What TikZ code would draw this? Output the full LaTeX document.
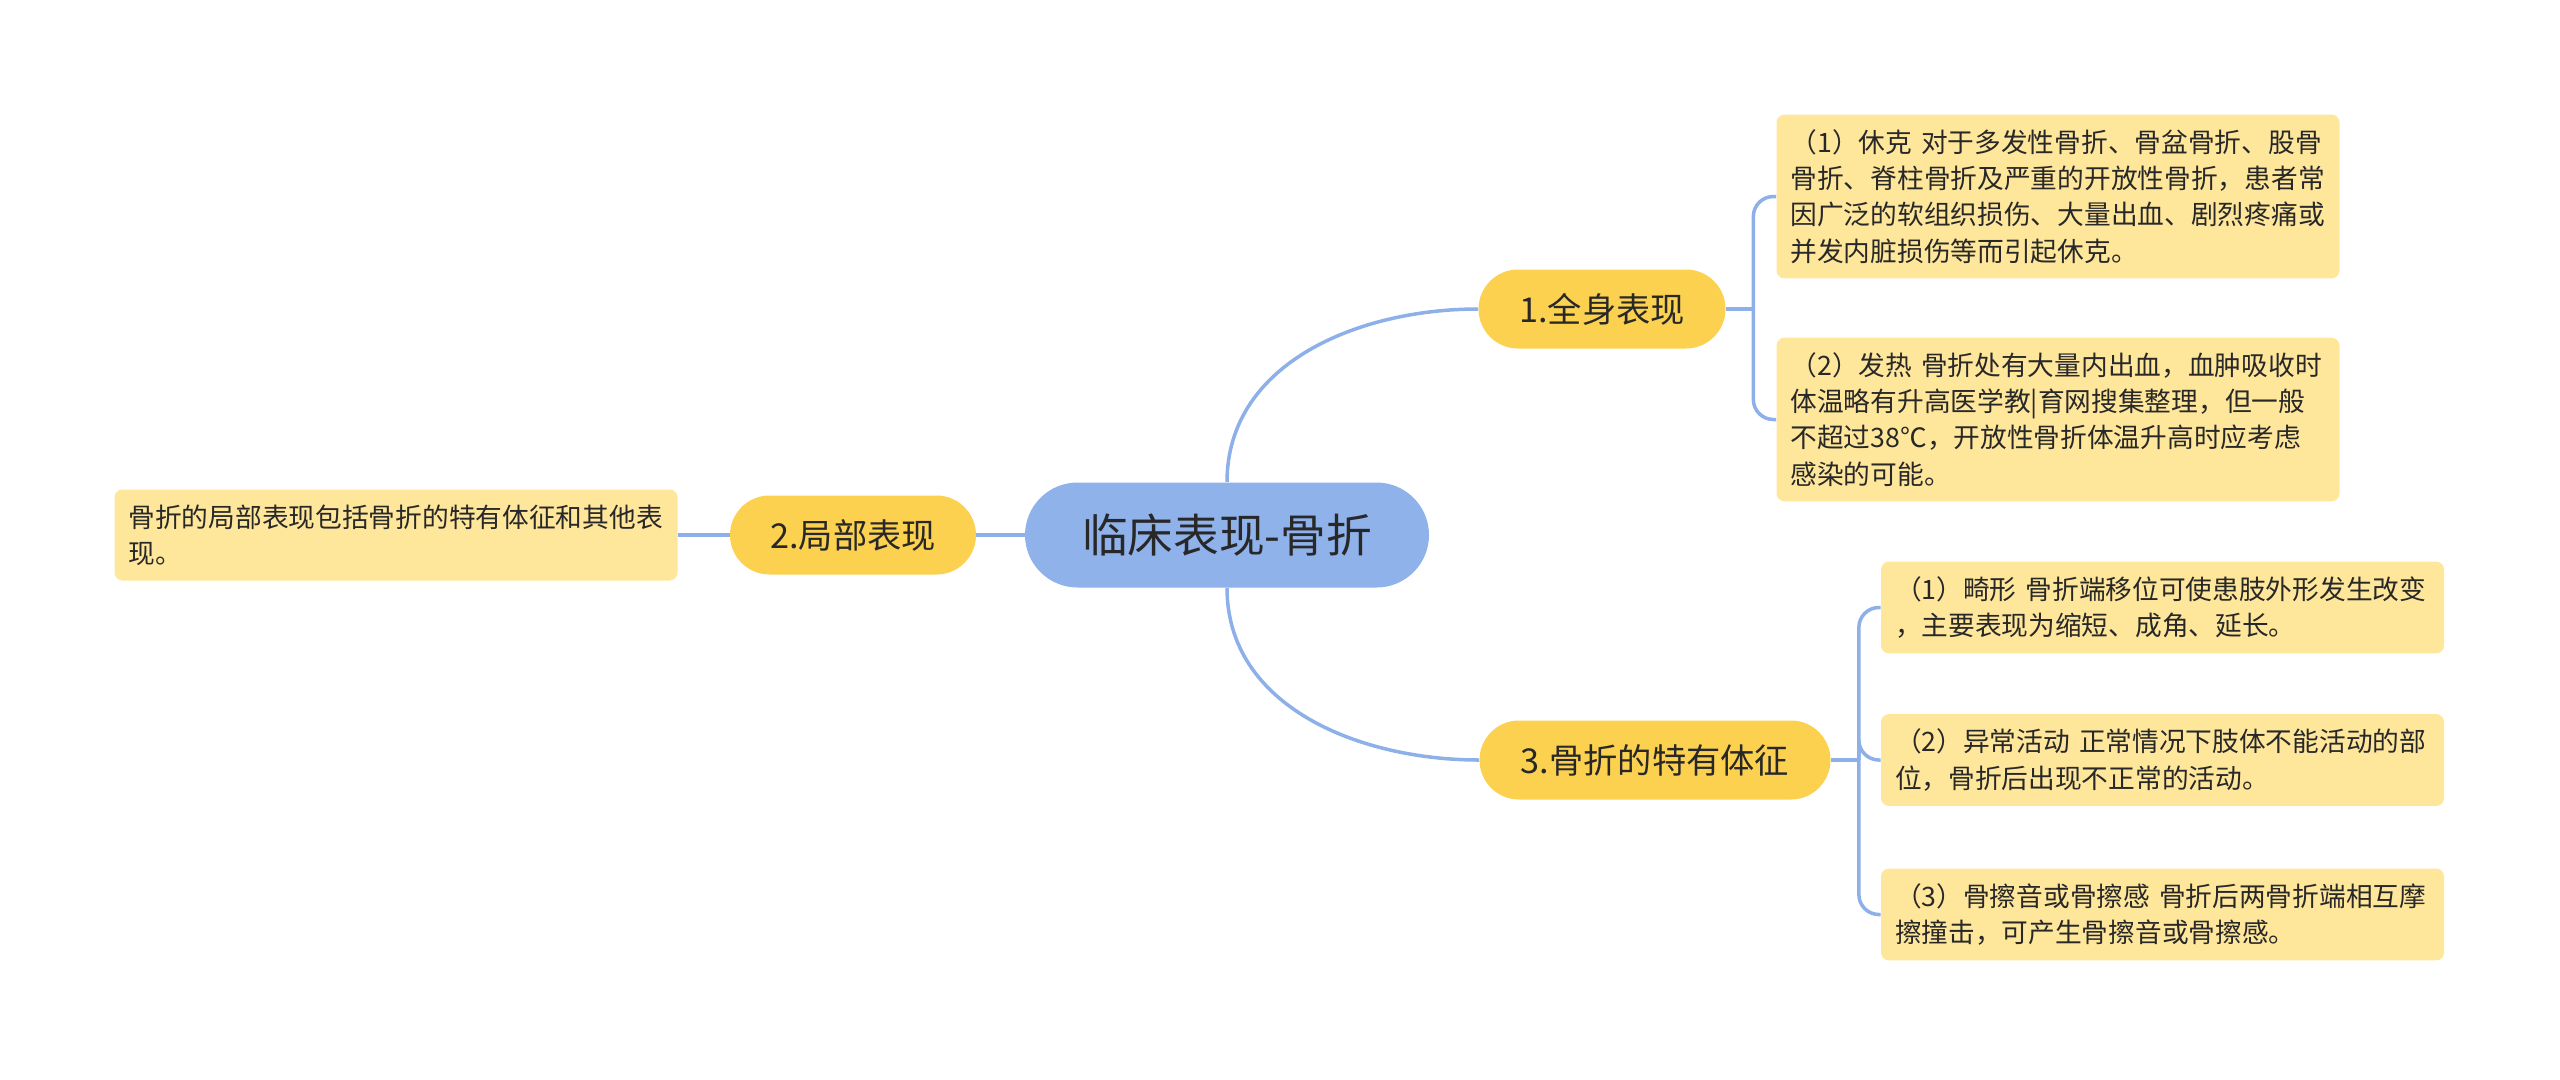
\documentclass[tikz,border=0pt]{standalone}
\usepackage{fontspec}
\setmainfont{Noto Sans CJK SC}
\usetikzlibrary{calc, positioning}
\definecolor{Rootblue}{RGB}{143,178,234}
\definecolor{Topicyel}{RGB}{252,209,79}
\definecolor{Leafyel}{RGB}{254,230,155}
\definecolor{Linkblue}{RGB}{141,176,232}
\definecolor{Inkgray}{RGB}{40,40,40}

\begin{document}
\begin{tikzpicture}[
  root/.style={rectangle, rounded corners=1.05cm, fill=Rootblue,
               minimum width=8.08cm, minimum height=2.1cm,
               font=\fontsize{26}{30}\selectfont, text=Inkgray},
  topic/.style={rectangle, rounded corners=0.79cm, fill=Topicyel,
                minimum width=#1, minimum height=1.58cm,
                font=\fontsize{19.5}{23}\selectfont, text=Inkgray},
  leaf/.style={rectangle, rounded corners=0.16cm, fill=Leafyel,
               text width=10.7cm, align=left, inner xsep=0.28cm, inner ysep=0.3cm,
               font=\fontsize{15.2}{20.6}\selectfont, text=Inkgray},
  link/.style={draw=Linkblue, line width=2pt}
]
\useasboundingbox (0,0) rectangle (51.2,-21.58);

%% Centro
\node[root] (root) at (24.54,-10.70) {临床表现-骨折};

%% Ramas principales
\node[topic=4.94cm] (n1) at (32.04,-6.18) {1.全身表现};
\node[topic=4.92cm] (n2) at (17.06,-10.70) {2.局部表现};
\node[topic=7.02cm] (n3) at (33.10,-15.20) {3.骨折的特有体征};

%% Hojas de 1
\node[leaf] (l11) at (41.16,-3.93) {（1）休克 对于多发性骨折、骨盆骨折、股骨\\
  骨折、脊柱骨折及严重的开放性骨折，患者常\\
  因广泛的软组织损伤、大量出血、剧烈疼痛或\\
  并发内脏损伤等而引起休克。};
\node[leaf] (l12) at (41.16,-8.39) {（2）发热 骨折处有大量内出血，血肿吸收时\\
  体温略有升高医学教|育网搜集整理，但一般\\
  不超过38℃，开放性骨折体温升高时应考虑\\
  感染的可能。};

%% Hoja de 2
\node[leaf] (l21) at (7.92,-10.70) {骨折的局部表现包括骨折的特有体征和其他表\\
  现。};

%% Hojas de 3
\node[leaf] (l31) at (43.25,-12.15) {（1）畸形 骨折端移位可使患肢外形发生改变\\
  ，主要表现为缩短、成角、延长。};
\node[leaf] (l32) at (43.25,-15.20) {（2）异常活动 正常情况下肢体不能活动的部\\
  位，骨折后出现不正常的活动。};
\node[leaf] (l33) at (43.25,-18.29) {（3）骨擦音或骨擦感 骨折后两骨折端相互摩\\
  擦撞击，可产生骨擦音或骨擦感。};

%% Conectores
\draw[link] (root.north) to[out=90, in=180] (n1.west);
\draw[link] (root.south) to[out=-90, in=180] (n3.west);
\draw[link] (root.west) -- (n2.east);
\draw[link] (n2.west) -- (l21.east);

\coordinate (b1) at ($(n1.east)+(0.55,0)$);
\coordinate (b3) at ($(n3.east)+(0.56,0)$);
\draw[link] (n1.east) -- (b1);
\draw[link] (n3.east) -- (b3);
\foreach \leafname in {l11, l12}
  \draw[link, rounded corners=0.4cm] (b1) |- (\leafname.west);
\foreach \leafname in {l31, l32, l33}
  \draw[link, rounded corners=0.4cm] (b3) |- (\leafname.west);

\end{tikzpicture}
\end{document}
